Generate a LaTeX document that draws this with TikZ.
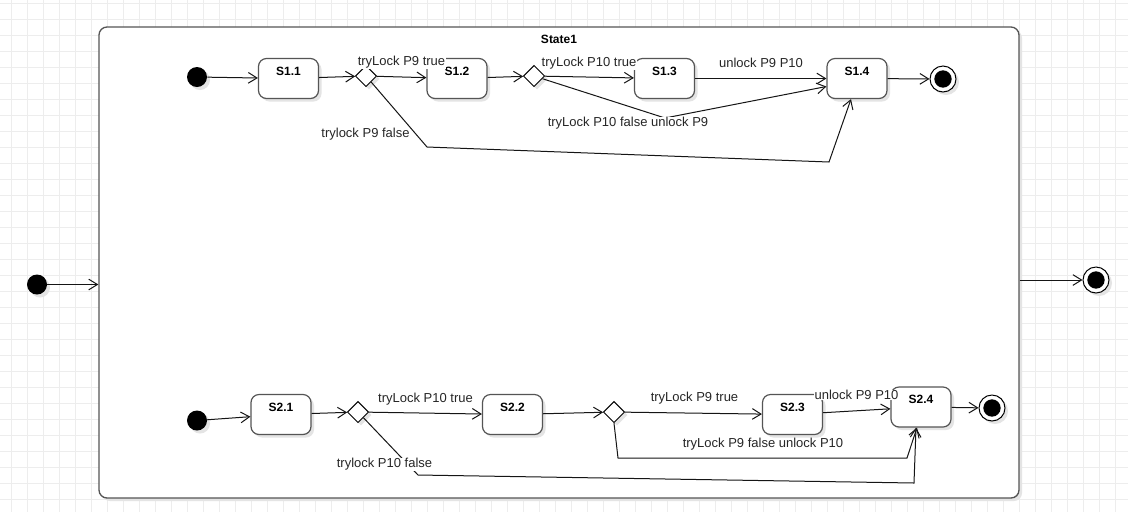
\documentclass[tikz,border=0pt]{standalone}
\usepackage{fontspec}
\setmainfont{Liberation Sans}
\usetikzlibrary{arrows.meta,shapes.geometric,calc}
\definecolor{gridc}{HTML}{EDEDED}
\definecolor{shad}{HTML}{E4E4E4}
\definecolor{boxc}{HTML}{555555}
\definecolor{linec}{HTML}{151515}
\definecolor{txtc}{HTML}{262626}
\tikzset{
  shadowed/.style={preaction={fill=shad,draw=none,transform canvas={xshift=2.25pt,yshift=-2.25pt}}},
  gridline/.style={draw=gridc,line width=0.75pt},
  bigstate/.style={shadowed,draw=boxc,fill=white,line width=1pt,rounded corners=6pt,
    minimum width=690pt,minimum height=353.25pt,inner sep=0pt},
  stbox/.style={shadowed,draw=boxc,fill=white,line width=0.9pt,rounded corners=6pt,
    minimum width=45pt,minimum height=30pt,inner sep=0pt},
  stname/.style={anchor=north,inner sep=0pt,yshift=-6.5pt,text=black,
    font=\bfseries\fontsize{9}{10}\selectfont},
  initst/.style={shadowed,circle,fill=black,draw=none,minimum size=15pt,inner sep=0pt},
  finalst/.style={shadowed,circle,draw=black,fill=white,line width=0.75pt,minimum size=19.5pt,inner sep=0pt,
    path picture={\fill[black] (path picture bounding box.center) circle (6.5pt);}},
  choice/.style={shadowed,diamond,aspect=1,draw=black,fill=white,line width=0.75pt,
    minimum width=16pt,minimum height=16pt,inner sep=0pt},
  conn/.style={draw=linec,line width=0.75pt,-{Straight Barb[length=6.5pt,width=8pt]}},
  elbl/.style={anchor=base,fill=white,inner sep=0.5pt,text=txtc,font=\fontsize{9.75}{11}\selectfont},
}
\begin{document}
\begin{tikzpicture}[x=0.75pt,y=-0.75pt]
\useasboundingbox (0,0) rectangle (1128,512);
\fill[white] (0,0) rectangle (1128,512);
% background grid
\foreach \x in {11,27,...,1123} \draw[gridline] (\x,0) -- (\x,512);
\foreach \y in {3,19,...,509} \draw[gridline] (0,\y) -- (1128,\y);

% composite state
\node[bigstate,label={[stname,yshift=0pt]north:State1}] (state1) at (559,262.5) {};

% outer initial / final
\node[initst] (i0) at (37,284.5) {};
\node[finalst] (f0) at (1096,280) {};

% top region
\node[initst] (i1) at (197,77) {};
\node[stbox,label={[stname]north:S1.1}] (s11) at (288.5,78.5) {};
\node[choice] (d1) at (366,76) {};
\node[stbox,label={[stname]north:S1.2}] (s12) at (457,78.5) {};
\node[choice] (d2) at (534,76) {};
\node[stbox,label={[stname]north:S1.3}] (s13) at (664.5,78.5) {};
\node[stbox,label={[stname]north:S1.4}] (s14) at (857,78.5) {};
\node[finalst] (f1) at (943,79) {};

% bottom region
\node[initst] (i2) at (197,420.5) {};
\node[stbox,label={[stname]north:S2.1}] (s21) at (281,414.5) {};
\node[choice] (d3) at (358,412) {};
\node[stbox,label={[stname]north:S2.2}] (s22) at (512.5,414.5) {};
\node[choice] (d4) at (614,412) {};
\node[stbox,label={[stname]north:S2.3}] (s23) at (792.5,414.5) {};
\node[stbox,label={[stname]north:S2.4}] (s24) at (921,407) {};
\node[finalst] (f2) at (992,408) {};

% waypoints
\coordinate (w1) at (665,118);
\coordinate (w2) at (427,147);
\coordinate (w3) at (829,162);
\coordinate (w4) at (618,458);
\coordinate (w5) at (907,458);
\coordinate (w6) at (418,475);
\coordinate (w7) at (914,483);

% outer connectors
\draw[conn] (i0) -- (i0 -| state1.west);
\draw[conn] (state1.east |- f0) -- (f0);

% top connectors
\draw[conn] (i1) -- (s11);
\draw[conn] (s11) -- (d1);
\draw[conn] (d1) -- (s12);
\draw[conn] (s12) -- (d2);
\draw[conn] (d2) -- (s13);
\draw[conn] (s13) -- (s14);
\draw[conn] (s14) -- (f1);
\draw[conn] (d2) -- (w1) -- ($(s14.west)+(0,8)$);
\draw[conn] (d1) -- (w2) -- (w3) -- ($(s14.south)+(-6,0)$);

% bottom connectors
\draw[conn] (i2) -- (s21);
\draw[conn] (s21) -- (d3);
\draw[conn] (d3) -- (s22);
\draw[conn] (s22) -- (d4);
\draw[conn] (d4) -- (s23);
\draw[conn] (s23) -- (s24);
\draw[conn] (s24) -- (f2);
\draw[conn] (d4.south) -- (w4) -- (w5) -- ($(s24.south)+(-4,0)$);
\draw[conn] (d3) -- (w6) -- (w7) -- ($(s24.south)+(-5,0)$);

% connector labels
\node[elbl] (l1) at (401.5,65.6) {tryLock P9 true};
\node[elbl] (l2) at (589,66.6) {tryLock P10 true};
\node[elbl] (l3) at (761,67.6) {unlock P9 P10};
\node[elbl] (l4) at (628,126.7) {tryLock P10 false unlock P9};
\node[elbl] (l5) at (365.5,137.6) {trylock P9 false};
\node[elbl] (l6) at (425.5,402.6) {tryLock P10 true};
\node[elbl] (l7) at (384.5,467.6) {trylock P10 false};
\node[elbl] (l8) at (694.5,401.6) {tryLock P9 true};
\node[elbl] (l9) at (856.5,399.6) {unlock P9 P10};
\node[elbl] (l10) at (763,447.6) {tryLock P9 false unlock P10};
\end{tikzpicture}
\end{document}
